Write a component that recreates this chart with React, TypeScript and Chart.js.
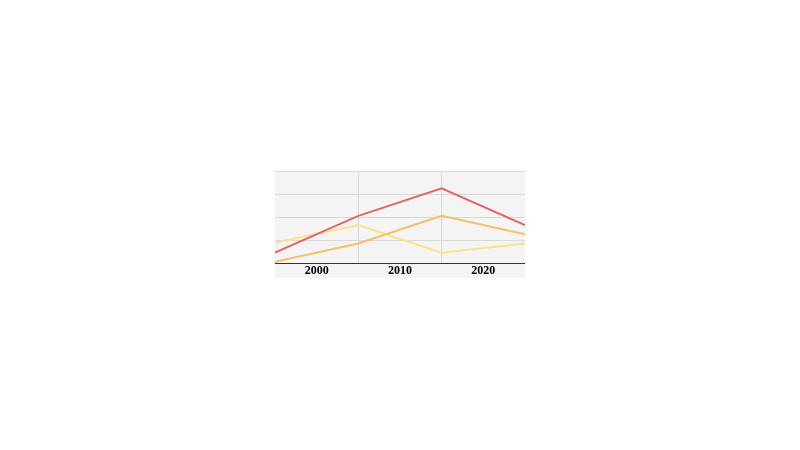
import React, { useEffect, useRef } from "react";
import { Chart, registerables } from "chart.js";

Chart.register(...registerables);

const years = [1995, 2005, 2015, 2025];
const tickYears = [2000, 2010, 2020];
const redSeries = [4.5, 20.5, 32.5, 16.5];
const orangeSeries = [0.5, 8.5, 20.5, 12.5];
const yellowSeries = [8.8, 16.5, 4.5, 8.5];

const toPoints = (vals: number[]) => vals.map((v, i) => ({ x: years[i], y: v }));

export default function App() {
  const ref = useRef<HTMLCanvasElement | null>(null);
  useEffect(() => {
    if (!ref.current) return;
    const chart = new Chart(ref.current, {
      type: "line",
      data: {
        datasets: [
          { data: toPoints(redSeries), borderColor: "#e06666", borderWidth: 2, pointRadius: 0, fill: false },
          { data: toPoints(orangeSeries), borderColor: "#f4c06a", borderWidth: 2, pointRadius: 0, fill: false },
          { data: toPoints(yellowSeries), borderColor: "#ffe08f", borderWidth: 2, pointRadius: 0, fill: false },
        ],
      },
      options: {
        animation: false,
        responsive: true,
        maintainAspectRatio: false,
        layout: { padding: 0 },
        plugins: { legend: { display: false }, tooltip: { enabled: false } },
        scales: {
          x: {
            type: "linear",
            min: 1995,
            max: 2025,
            afterBuildTicks: (s: any) => {
              s.ticks = tickYears.map((v) => ({ value: v }));
            },
            grid: { offset: true, color: "#d9d9d9", drawTicks: false },
            border: { color: "#333333", width: 1 },
            ticks: {
              padding: 0,
              color: "#000000",
              font: { family: "'Liberation Serif', serif", size: 12, weight: "bold", lineHeight: 1.25 },
              callback: (v: any) => String(v),
            },
          },
          y: {
            min: 0,
            max: 40,
            ticks: { display: false, stepSize: 10 },
            grid: { color: "#d9d9d9", drawTicks: false },
            border: { display: false },
          },
        },
      },
    });
    return () => chart.destroy();
  }, []);
  return (
    <div
      style={{
        position: "absolute",
        left: 275,
        top: 171,
        width: 250,
        height: 107,
        background: "#f4f4f4",
      }}
    >
      <canvas ref={ref} />
    </div>
  );
}
